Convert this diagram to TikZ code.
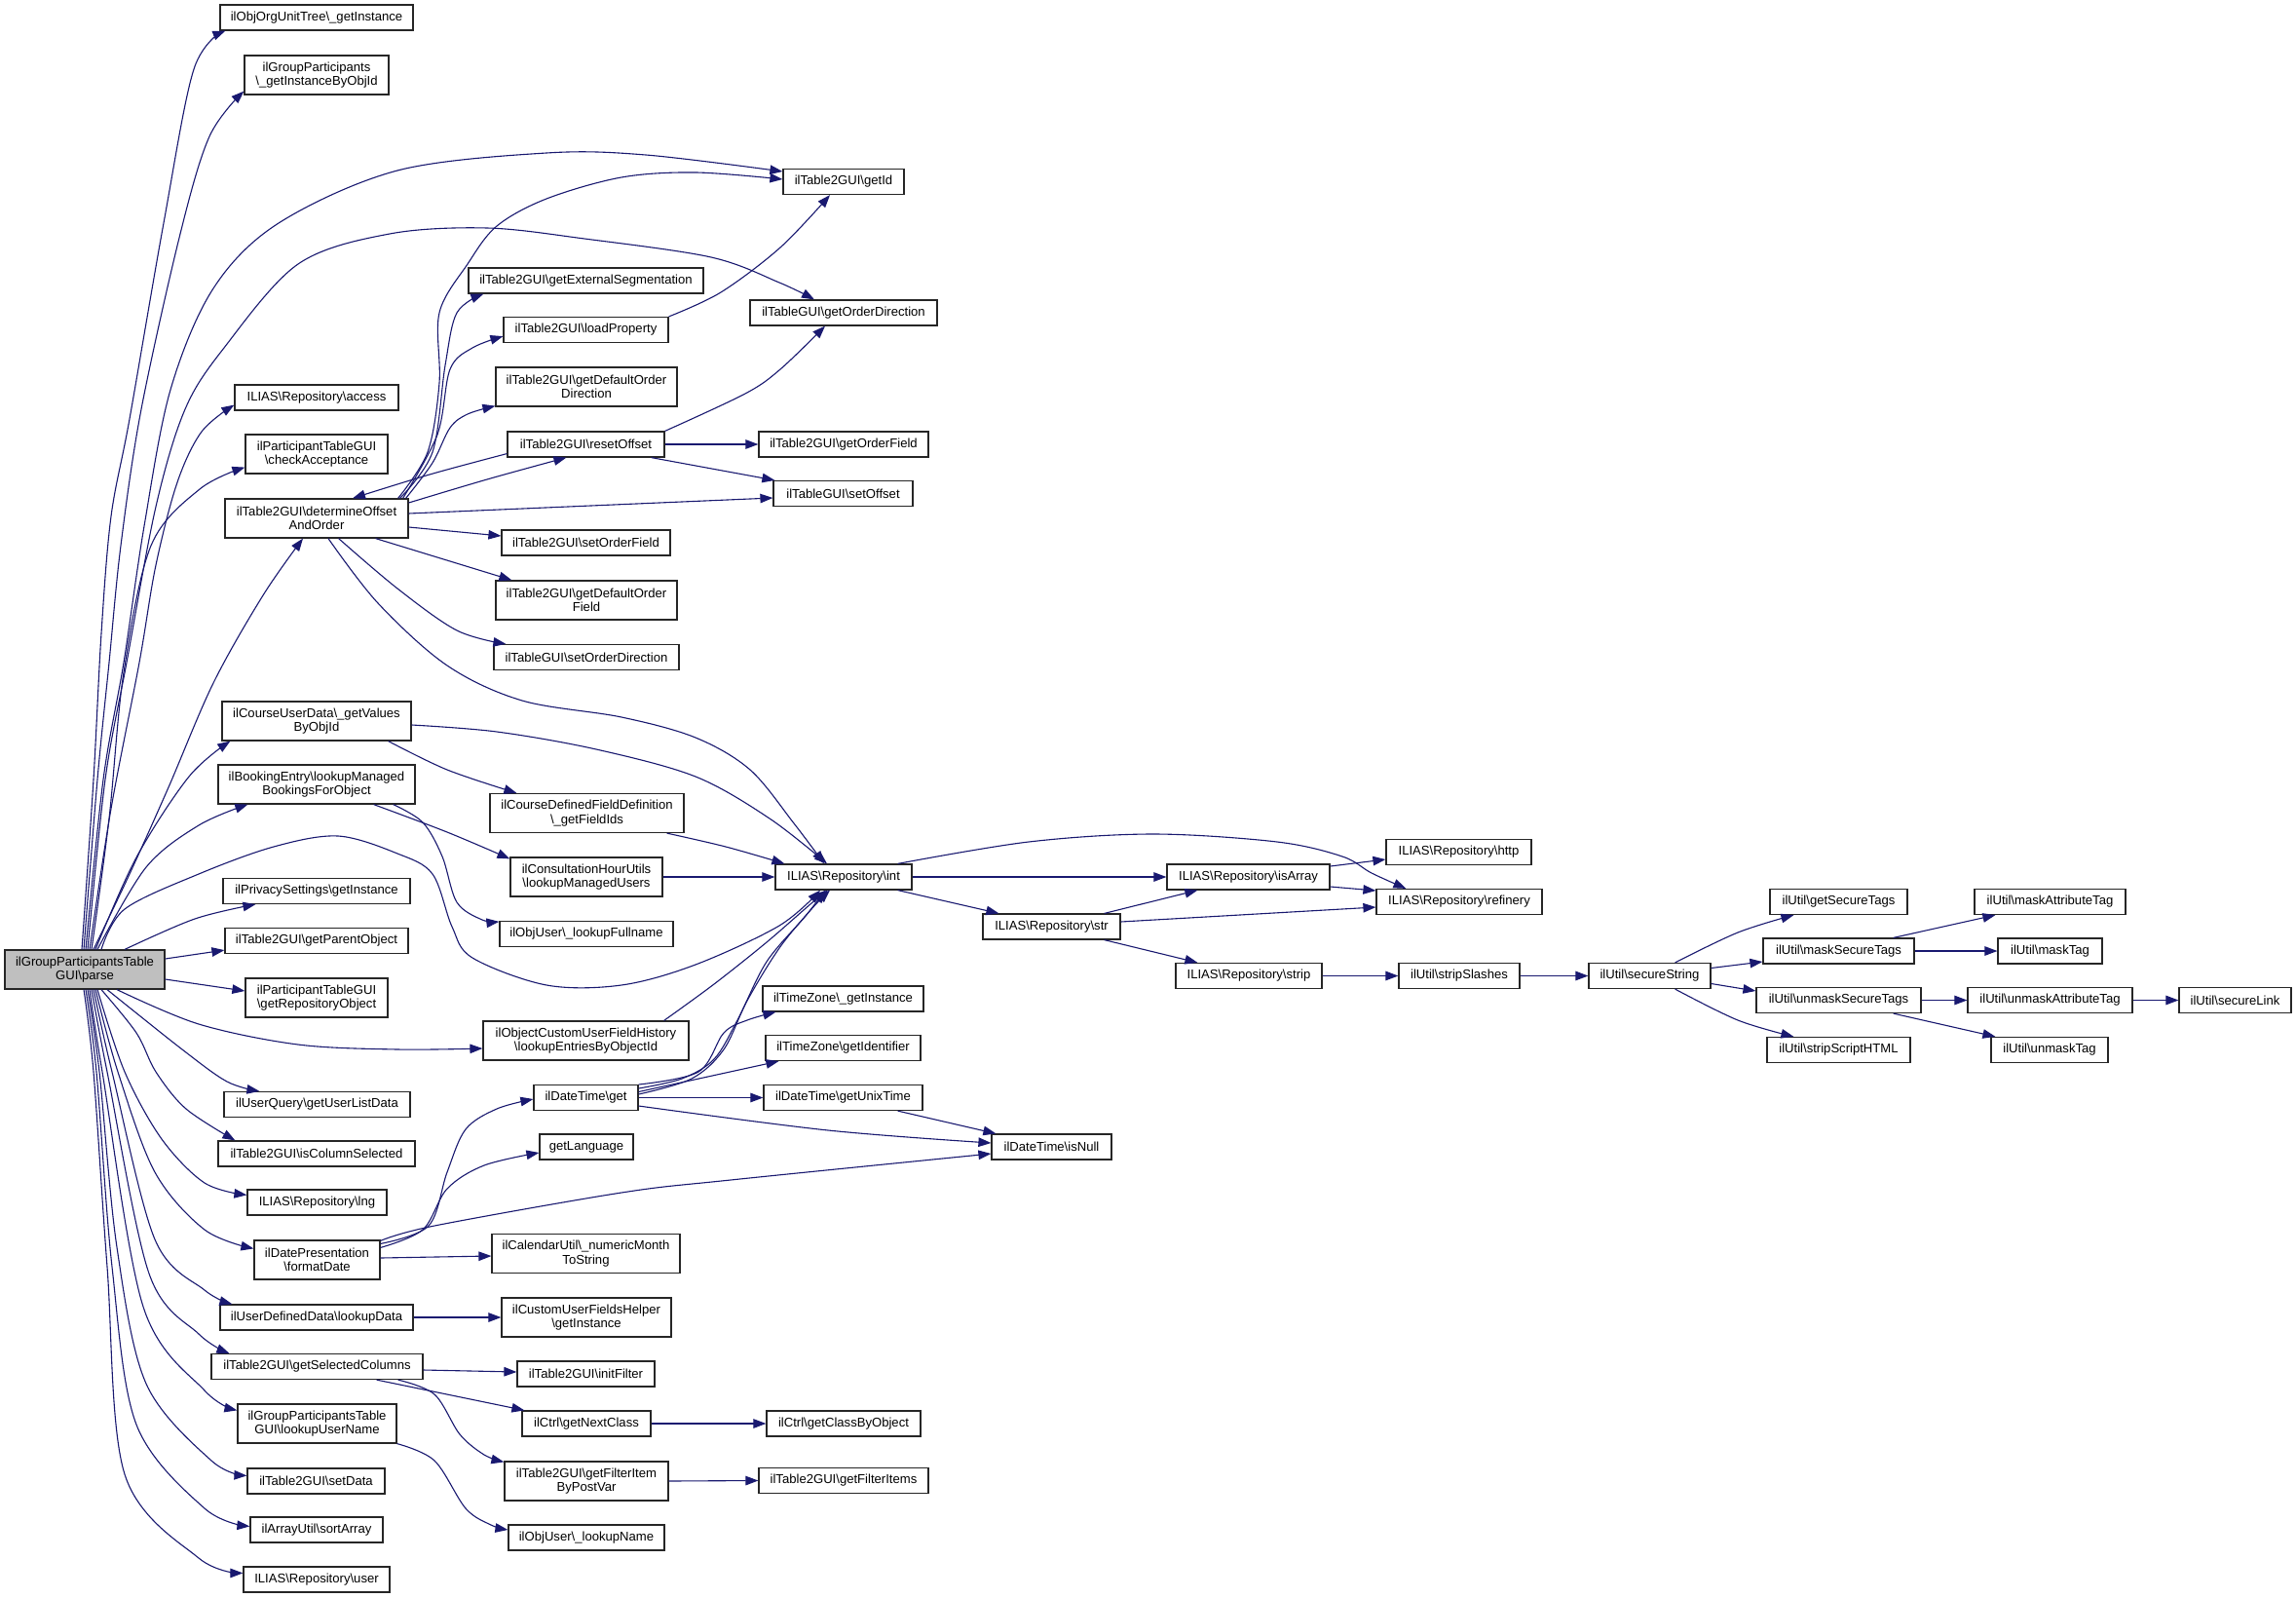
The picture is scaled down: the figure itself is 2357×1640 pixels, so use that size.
\documentclass[tikz,border=0pt]{standalone}
\usepackage{fontspec}
\setmainfont{Liberation Sans}
\usetikzlibrary{arrows.meta}
\definecolor{edgeblue}{HTML}{191970}
\definecolor{maingray}{HTML}{BFBFBF}
\newcommand{\myBS}{\textbackslash}
\begin{document}
\begin{tikzpicture}[x=1pt,y=-1pt,
  fnbox/.style={draw=black!85, line width=1.2pt, fill=white, inner sep=0pt, align=center,
    font=\fontsize{13.1}{14.3}\selectfont, minimum height=26pt},
  twoline/.style={minimum height=40pt},
  mainbox/.style={fnbox, twoline, fill=maingray},
  callarrow/.style={draw=edgeblue, line width=1.1pt, -{Triangle[length=13pt,width=9.5pt]}},
  sm/.style={smooth, tension=0.55}]
\useasboundingbox (0,0) rectangle (2357,1640);
\fill[white] (0,0) rectangle (2357,1640);

% ---------- nodes ----------
\node[mainbox, minimum width=164pt] (parse) at (87,995) {ilGroupParticipantsTable\\GUI\myBS parse};

\node[fnbox, minimum width=198pt] (orgunit) at (325,18) {ilObjOrgUnitTree\myBS\_getInstance};
\node[fnbox, twoline, minimum width=148pt] (grpinst) at (325,77) {ilGroupParticipants\\\myBS\_getInstanceByObjId};
\node[fnbox, minimum width=168pt] (access) at (325,408) {ILIAS\myBS Repository\myBS access};
\node[fnbox, twoline, minimum width=146pt] (checkAcceptance) at (325,466) {ilParticipantTableGUI\\\myBS checkAcceptance};
\node[fnbox, twoline, minimum width=188pt] (determine) at (325,532) {ilTable2GUI\myBS determineOffset\\AndOrder};
\node[fnbox, twoline, minimum width=194pt] (courseUserData) at (325,740) {ilCourseUserData\myBS\_getValues\\ByObjId};
\node[fnbox, twoline, minimum width=202pt] (booking) at (325,805) {ilBookingEntry\myBS lookupManaged\\BookingsForObject};
\node[fnbox, minimum width=192pt] (privacy) at (325,914.5) {ilPrivacySettings\myBS getInstance};
\node[fnbox, minimum width=188pt] (parentObject) at (325,965.5) {ilTable2GUI\myBS getParentObject};
\node[fnbox, twoline, minimum width=146pt] (repoObject) at (325,1024) {ilParticipantTableGUI\\\myBS getRepositoryObject};
\node[fnbox, minimum width=191pt] (userList) at (325.5,1133.5) {ilUserQuery\myBS getUserListData};
\node[fnbox, minimum width=202pt] (isColumnSelected) at (325,1184) {ilTable2GUI\myBS isColumnSelected};
\node[fnbox, minimum width=143pt] (lng) at (325.5,1234) {ILIAS\myBS Repository\myBS lng};
\node[fnbox, twoline, minimum width=129pt] (formatDate) at (325.5,1293) {ilDatePresentation\\\myBS formatDate};
\node[fnbox, minimum width=198pt] (lookupData) at (325,1352) {ilUserDefinedData\myBS lookupData};
\node[fnbox, minimum width=217pt] (selectedColumns) at (325.5,1402.5) {ilTable2GUI\myBS getSelectedColumns};
\node[fnbox, twoline, minimum width=163pt] (lookupUserName) at (325.5,1461) {ilGroupParticipantsTable\\GUI\myBS lookupUserName};
\node[fnbox, minimum width=141pt] (setData) at (324.5,1520) {ilTable2GUI\myBS setData};
\node[fnbox, minimum width=136pt] (sortArray) at (325,1570) {ilArrayUtil\myBS sortArray};
\node[fnbox, minimum width=150pt] (user) at (325,1621) {ILIAS\myBS Repository\myBS user};

\node[fnbox, minimum width=241pt] (extseg) at (601.5,288) {ilTable2GUI\myBS getExternalSegmentation};
\node[fnbox, minimum width=169pt] (loadProperty) at (601.5,338.5) {ilTable2GUI\myBS loadProperty};
\node[fnbox, twoline, minimum width=186pt] (defOrderDir) at (602,397) {ilTable2GUI\myBS getDefaultOrder\\Direction};
\node[fnbox, minimum width=161pt] (resetOffset) at (601.5,456) {ilTable2GUI\myBS resetOffset};
\node[fnbox, minimum width=173pt] (setOrderField) at (601.5,557) {ilTable2GUI\myBS setOrderField};
\node[fnbox, twoline, minimum width=186pt] (defOrderField) at (602,616) {ilTable2GUI\myBS getDefaultOrder\\Field};
\node[fnbox, minimum width=190pt] (setOrderDirection) at (602,674.5) {ilTableGUI\myBS setOrderDirection};
\node[fnbox, twoline, minimum width=199pt] (courseDefField) at (602.5,834.5) {ilCourseDefinedFieldDefinition\\\myBS\_getFieldIds};
\node[fnbox, twoline, minimum width=156pt] (consultation) at (602,900) {ilConsultationHourUtils\\\myBS lookupManagedUsers};
\node[fnbox, minimum width=178pt] (lookupFullname) at (602,958.5) {ilObjUser\myBS\_lookupFullname};
\node[fnbox, twoline, minimum width=211pt] (customHistory) at (601.5,1068) {ilObjectCustomUserFieldHistory\\\myBS lookupEntriesByObjectId};
\node[fnbox, minimum width=107pt] (dtGet) at (601.5,1126.5) {ilDateTime\myBS get};
\node[fnbox, minimum width=96pt] (getLanguage) at (602,1177) {getLanguage};
\node[fnbox, twoline, minimum width=193pt] (numericMonth) at (601.5,1286.5) {ilCalendarUtil\myBS\_numericMonth\\ToString};
\node[fnbox, twoline, minimum width=174pt] (fieldsHelper) at (602,1352) {ilCustomUserFieldsHelper\\\myBS getInstance};
\node[fnbox, minimum width=141pt] (initFilter) at (601.5,1410) {ilTable2GUI\myBS initFilter};
\node[fnbox, minimum width=132pt] (getNextClass) at (602,1461) {ilCtrl\myBS getNextClass};
\node[fnbox, twoline, minimum width=168pt] (filterItem) at (602,1520) {ilTable2GUI\myBS getFilterItem\\ByPostVar};
\node[fnbox, minimum width=160pt] (lookupName) at (602,1578) {ilObjUser\myBS\_lookupName};

\node[fnbox, minimum width=124pt] (getId) at (866,186.5) {ilTable2GUI\myBS getId};
\node[fnbox, minimum width=192pt] (getOrderDirection) at (866,321) {ilTableGUI\myBS getOrderDirection};
\node[fnbox, minimum width=174pt] (getOrderField) at (866,456) {ilTable2GUI\myBS getOrderField};
\node[fnbox, minimum width=143pt] (setOffset) at (865.5,506.5) {ilTableGUI\myBS setOffset};
\node[fnbox, minimum width=140pt] (int) at (866,900) {ILIAS\myBS Repository\myBS int};
\node[fnbox, minimum width=165pt] (tzInstance) at (865.5,1025) {ilTimeZone\myBS\_getInstance};
\node[fnbox, minimum width=159pt] (tzIdentifier) at (865.5,1075.5) {ilTimeZone\myBS getIdentifier};
\node[fnbox, minimum width=163pt] (unixTime) at (865.5,1126.5) {ilDateTime\myBS getUnixTime};
\node[fnbox, minimum width=158pt] (classByObject) at (866,1461) {ilCtrl\myBS getClassByObject};
\node[fnbox, minimum width=174pt] (filterItems) at (866,1519.5) {ilTable2GUI\myBS getFilterItems};

\node[fnbox, minimum width=141pt] (str) at (1079.5,951) {ILIAS\myBS Repository\myBS str};
\node[fnbox, minimum width=123pt] (isNull) at (1079.5,1177) {ilDateTime\myBS isNull};
\node[fnbox, minimum width=167pt] (isArray) at (1281.5,900) {ILIAS\myBS Repository\myBS isArray};
\node[fnbox, minimum width=150pt] (strip) at (1282,1001.5) {ILIAS\myBS Repository\myBS strip};
\node[fnbox, minimum width=149pt] (http) at (1497.5,874.5) {ILIAS\myBS Repository\myBS http};
\node[fnbox, minimum width=170pt] (refinery) at (1498,925.5) {ILIAS\myBS Repository\myBS refinery};
\node[fnbox, minimum width=124pt] (stripSlashes) at (1498,1001.5) {ilUtil\myBS stripSlashes};
\node[fnbox, minimum width=125pt] (secureString) at (1693.5,1001.5) {ilUtil\myBS secureString};
\node[fnbox, minimum width=141pt] (getSecureTags) at (1887.5,925.5) {ilUtil\myBS getSecureTags};
\node[fnbox, minimum width=155pt] (maskSecureTags) at (1887.5,976) {ilUtil\myBS maskSecureTags};
\node[fnbox, minimum width=169pt] (unmaskSecureTags) at (1887.5,1026.5) {ilUtil\myBS unmaskSecureTags};
\node[fnbox, minimum width=147pt] (stripScriptHTML) at (1887.5,1077.5) {ilUtil\myBS stripScriptHTML};
\node[fnbox, minimum width=155pt] (maskAttributeTag) at (2104.5,925.5) {ilUtil\myBS maskAttributeTag};
\node[fnbox, minimum width=107pt] (maskTag) at (2104.5,976) {ilUtil\myBS maskTag};
\node[fnbox, minimum width=169pt] (unmaskAttributeTag) at (2104.5,1026.5) {ilUtil\myBS unmaskAttributeTag};
\node[fnbox, minimum width=120pt] (unmaskTag) at (2104,1077.5) {ilUtil\myBS unmaskTag};
\node[fnbox, minimum width=115pt] (secureLink) at (2294.5,1026.5) {ilUtil\myBS secureLink};

% ---------- edges from parse (upwards) ----------
\draw[callarrow] plot[sm] coordinates {([xshift=-3]parse.north) (96,800) (104,650) (114,530) (133,430) (168,229) (199,71) ([xshift=6]orgunit.south west)};
\draw[callarrow] plot[sm] coordinates {([xshift=-1]parse.north) (100,800) (112,680) (124,560) (145,420) (185,240) (215,140) ([yshift=4]grpinst.south west)};
\draw[callarrow] plot[sm] coordinates {([xshift=1]parse.north) (106,800) (127,680) (148,540) (175,400) (219,296) (286,229) (408,175) (561,157) (663,159) ([yshift=10.5]getId.west)};
\draw[callarrow] plot[sm] coordinates {([xshift=3]parse.north) (108,800) (130,680) (160,520) (190,420) (230,357) (306,271) (400,240) (500,234) (600,245) (730,264) (800,290) ([xshift=-30]getOrderDirection.north)};
\draw[callarrow] plot[sm] coordinates {([xshift=5]parse.north) (114,830) (143,680) (160,580) (182,495) (207,443) ([yshift=6]access.south west)};
\draw[callarrow] plot[sm] coordinates {([xshift=7]parse.north) (112,840) (127,690) (155,560) (205,502) ([yshift=7]checkAcceptance.south west)};
\draw[callarrow] plot[sm] coordinates {([xshift=9]parse.north) (133,897) (173,808) (219,701) (270,611) ([xshift=-14]determine.south)};
\draw[callarrow] plot[sm] coordinates {([xshift=11]parse.north) (140,880) (194,797) ([xshift=9]courseUserData.south west)};
\draw[callarrow] plot[sm] coordinates {([xshift=13]parse.north) (150,890) (204,847) ([xshift=31]booking.south west)};
\draw[callarrow] plot[sm] coordinates {([xshift=17]parse.north) (128,933) (204,897) (281,869) (347,858) (408,876) (444,897) (464,951) (485,983) (561,1011) (638,1011) (714,990) (800,950) ([xshift=-24]int.south)};
\draw[callarrow] plot[sm] coordinates {([xshift=41]parse.north) (200,943) ([xshift=34]privacy.south west)};
% ---------- edges from parse (right / downwards) ----------
\draw[callarrow] ([yshift=11]parse.east) -- ([yshift=4]parentObject.south west);
\draw[callarrow] ([yshift=-10]parse.east) -- ([yshift=7]repoObject.west);
\draw[callarrow] plot[sm] coordinates {([xshift=33]parse.south) (204,1051) (306,1072) (408,1077) ([yshift=-8]customHistory.west)};
\draw[callarrow] plot[sm] coordinates {([xshift=23]parse.south) (187,1077) (233,1110) ([xshift=37]userList.north west)};
\draw[callarrow] plot[sm] coordinates {([xshift=17]parse.south) (140,1060) (160,1100) (191,1138) ([xshift=18]isColumnSelected.north west)};
\draw[callarrow] plot[sm] coordinates {([xshift=13]parse.south) (128,1100) (166,1169) (210,1214) ([yshift=-6]lng.north west)};
\draw[callarrow] plot[sm] coordinates {([xshift=11]parse.south) (121,1100) (159,1203) (210,1262) ([yshift=-9]formatDate.north west)};
\draw[callarrow] plot[sm] coordinates {([xshift=9]parse.south) (115,1100) (159,1272) (210,1324) ([xshift=13]lookupData.north west)};
\draw[callarrow] plot[sm] coordinates {([xshift=7]parse.south) (110,1100) (153,1307) (204,1369) ([xshift=19]selectedColumns.north west)};
\draw[callarrow] plot[sm] coordinates {([xshift=5]parse.south) (105,1100) (147,1341) (210,1427) ([yshift=-7]lookupUserName.north west)};
\draw[callarrow] plot[sm] coordinates {([xshift=3]parse.south) (102,1100) (120,1280) (150,1420) (217,1499) ([yshift=-8]setData.north west)};
\draw[callarrow] plot[sm] coordinates {([xshift=1]parse.south) (99,1100) (115,1300) (140,1462) (210,1548) ([yshift=-10]sortArray.north west)};
\draw[callarrow] plot[sm] coordinates {([xshift=-1]parse.south) (96,1100) (110,1300) (128,1513) (204,1599) ([yshift=-7]user.north west)};

% ---------- determineOffsetAndOrder ----------
\draw[callarrow] plot[sm] coordinates {([xshift=-11]determine.north east) (439,464) (451,393) (451,321) (480,271) (510,232) (561,204) (638,182) (714,177) ([yshift=2.5]getId.west)};
\draw[callarrow] plot[sm] coordinates {([xshift=-9]determine.north east) (444,464) (457,375) (469,321) ([xshift=16]extseg.south west)};
\draw[callarrow] plot[sm] coordinates {([xshift=-6]determine.north east) (449,446) (462,379) (485,357) ([yshift=7]loadProperty.south west)};
\draw[callarrow] plot[sm] coordinates {([xshift=-3]determine.north east) (444,475) (462,439) (480,425) ([yshift=1]defOrderDir.south west)};
\draw[callarrow] plot[sm] coordinates {([yshift=16]determine.east) (500,492) ([xshift=61]resetOffset.south west)};
\draw[callarrow] plot[sm] coordinates {([yshift=4]resetOffset.south west) (441,487) ([xshift=37]determine.north)};
\draw[callarrow] ([yshift=5]determine.east) -- ([yshift=-4.5]setOffset.west);
\draw[callarrow] ([yshift=-9]determine.east) -- ([yshift=7]setOrderField.west);
\draw[callarrow] ([xshift=-34]determine.south east) -- ([xshift=17]defOrderField.north west);
\draw[callarrow] plot[sm] coordinates {([xshift=-72]determine.south east) (408,604) (469,647) ([xshift=13]setOrderDirection.north west)};
\draw[callarrow] plot[sm] coordinates {([xshift=12]determine.south) (388,619) (459,683) (536,719) (638,736) (714,757) (770,790) (815,845) ([xshift=-20]int.north)};

% ---------- middle column ----------
\draw[callarrow] plot[sm] coordinates {([yshift=-4]courseUserData.east) (510,751) (612,769) (714,797) (790,840) ([xshift=-17]int.north)};
\draw[callarrow] plot[sm] coordinates {([xshift=-24]courseUserData.south east) (459,790) ([xshift=28]courseDefField.north west)};
\draw[callarrow] plot[sm] coordinates {([xshift=-18]courseDefField.south east) (745,869) ([xshift=10]int.north west)};
\draw[callarrow] (consultation.east) -- (int.west);
\draw[callarrow] plot[sm] coordinates {([xshift=-43]booking.south east) (459,854) ([yshift=-2]consultation.north west)};
\draw[callarrow] plot[sm] coordinates {([xshift=-23]booking.south east) (434,844) (454,879) (469,926) (495,944) ([yshift=-1]lookupFullname.north west)};
\draw[callarrow] plot[sm] coordinates {([xshift=-26]customHistory.north east) (733,1010) (787,967) (833,927) ([xshift=-16]int.south)};
\draw[callarrow] plot[sm] coordinates {([yshift=9.5]dtGet.east) (700,1107) (733,1087) (757,1047) (787,987) (827,940) ([xshift=-19]int.south)};
\draw[callarrow] plot[sm] coordinates {([yshift=3.5]dtGet.east) (710,1107) (743,1077) (767,1027) (800,973) (833,933) ([xshift=-14]int.south)};

\draw[callarrow] plot[sm] coordinates {(loadProperty.north east) (740,300) (801,254) ([xshift=-14]getId.south)};
\draw[callarrow] plot[sm] coordinates {(resetOffset.north east) (765,404) (801,379) ([xshift=-19]getOrderDirection.south)};
\draw[callarrow] (resetOffset.east) -- (getOrderField.west);
\draw[callarrow] ([xshift=-14]resetOffset.south east) -- ([xshift=2]setOffset.north west);

% ---------- ILIAS Repository ----------
\draw[callarrow] (int.east) -- (isArray.west);
\draw[callarrow] ([xshift=-15]int.south east) -- ([xshift=17]str.north west);
\draw[callarrow] plot[sm] coordinates {([xshift=-15]int.north east) (1056,864) (1184,856) (1311,864) (1378,879) (1408,896) ([xshift=31]refinery.north west)};
\draw[callarrow] ([yshift=11]isArray.east) -- ([yshift=-7.5]http.west);
\draw[callarrow] ([yshift=-10]isArray.east) -- ([yshift=11.5]refinery.west);
\draw[callarrow] ([xshift=-17]str.north east) -- ([xshift=32]isArray.south west);
\draw[callarrow] ([yshift=5]str.east) -- ([yshift=-5.5]refinery.west);
\draw[callarrow] ([xshift=-17]str.south east) -- ([xshift=23]strip.north west);
\draw[callarrow] (strip.east) -- (stripSlashes.west);
\draw[callarrow] (stripSlashes.east) -- (secureString.west);

% ---------- ilUtil ----------
\draw[callarrow] plot[sm] coordinates {([xshift=-37]secureString.north east) (1784,957) ([xshift=25]getSecureTags.south west)};
\draw[callarrow] ([yshift=8]secureString.east) -- ([yshift=-11]maskSecureTags.west);
\draw[callarrow] ([yshift=-8]secureString.east) -- ([yshift=9.5]unmaskSecureTags.west);
\draw[callarrow] plot[sm] coordinates {([xshift=-37]secureString.south east) (1784,1047) ([xshift=28]stripScriptHTML.north west)};
\draw[callarrow] ([xshift=-22]maskSecureTags.north east) -- ([xshift=22]maskAttributeTag.south west);
\draw[callarrow] (maskSecureTags.east) -- (maskTag.west);
\draw[callarrow] (unmaskSecureTags.east) -- (unmaskAttributeTag.west);
\draw[callarrow] ([xshift=-29]unmaskSecureTags.south east) -- ([xshift=5]unmaskTag.north west);
\draw[callarrow] (unmaskAttributeTag.east) -- (secureLink.west);

% ---------- dates ----------
\draw[callarrow] plot[sm] coordinates {([yshift=13.5]dtGet.east) (717,1100) (743,1060) (767,1047) ([xshift=14]tzInstance.south west)};
\draw[callarrow] ([yshift=6]dtGet.east) -- ([xshift=14]tzIdentifier.south west);
\draw[callarrow] (dtGet.east) -- (unixTime.west);
\draw[callarrow] plot[sm] coordinates {([yshift=-8.5]dtGet.east) (850,1160) ([yshift=4]isNull.west)};
\draw[callarrow] ([xshift=-26]unixTime.south east) -- ([xshift=5]isNull.north west);
\draw[callarrow] plot[sm] coordinates {([yshift=-1]formatDate.north east) (446,1258) (638,1224) (750,1211) ([yshift=-7]isNull.west)};
\draw[callarrow] plot[sm] coordinates {([yshift=-4]formatDate.north east) (440,1258) (459,1203) (478,1159) (510,1138) ([yshift=-1.5]dtGet.west)};
\draw[callarrow] plot[sm] coordinates {([yshift=-8]formatDate.north east) (434,1262) (459,1220) (497,1196) ([yshift=-6]getLanguage.west)};
\draw[callarrow] ([yshift=2]formatDate.east) -- ([yshift=-2.5]numericMonth.west);
\draw[callarrow] (lookupData.east) -- (fieldsHelper.west);

% ---------- table columns ----------
\draw[callarrow] ([yshift=-3.5]selectedColumns.east) -- ([yshift=2]initFilter.west);
\draw[callarrow] ([xshift=-48]selectedColumns.south east) -- ([xshift=3]getNextClass.north west);
\draw[callarrow] plot[sm] coordinates {([xshift=-26]selectedColumns.south east) (446,1431) (472,1472) (497,1493) ([yshift=-1]filterItem.north west)};
\draw[callarrow] (getNextClass.east) -- (classByObject.west);
\draw[callarrow] (filterItem.east) -- (filterItems.west);
\draw[callarrow] plot[sm] coordinates {(lookupUserName.south east) (446,1499) (478,1548) (504,1565) ([yshift=8]lookupName.west)};
\end{tikzpicture}
\end{document}
